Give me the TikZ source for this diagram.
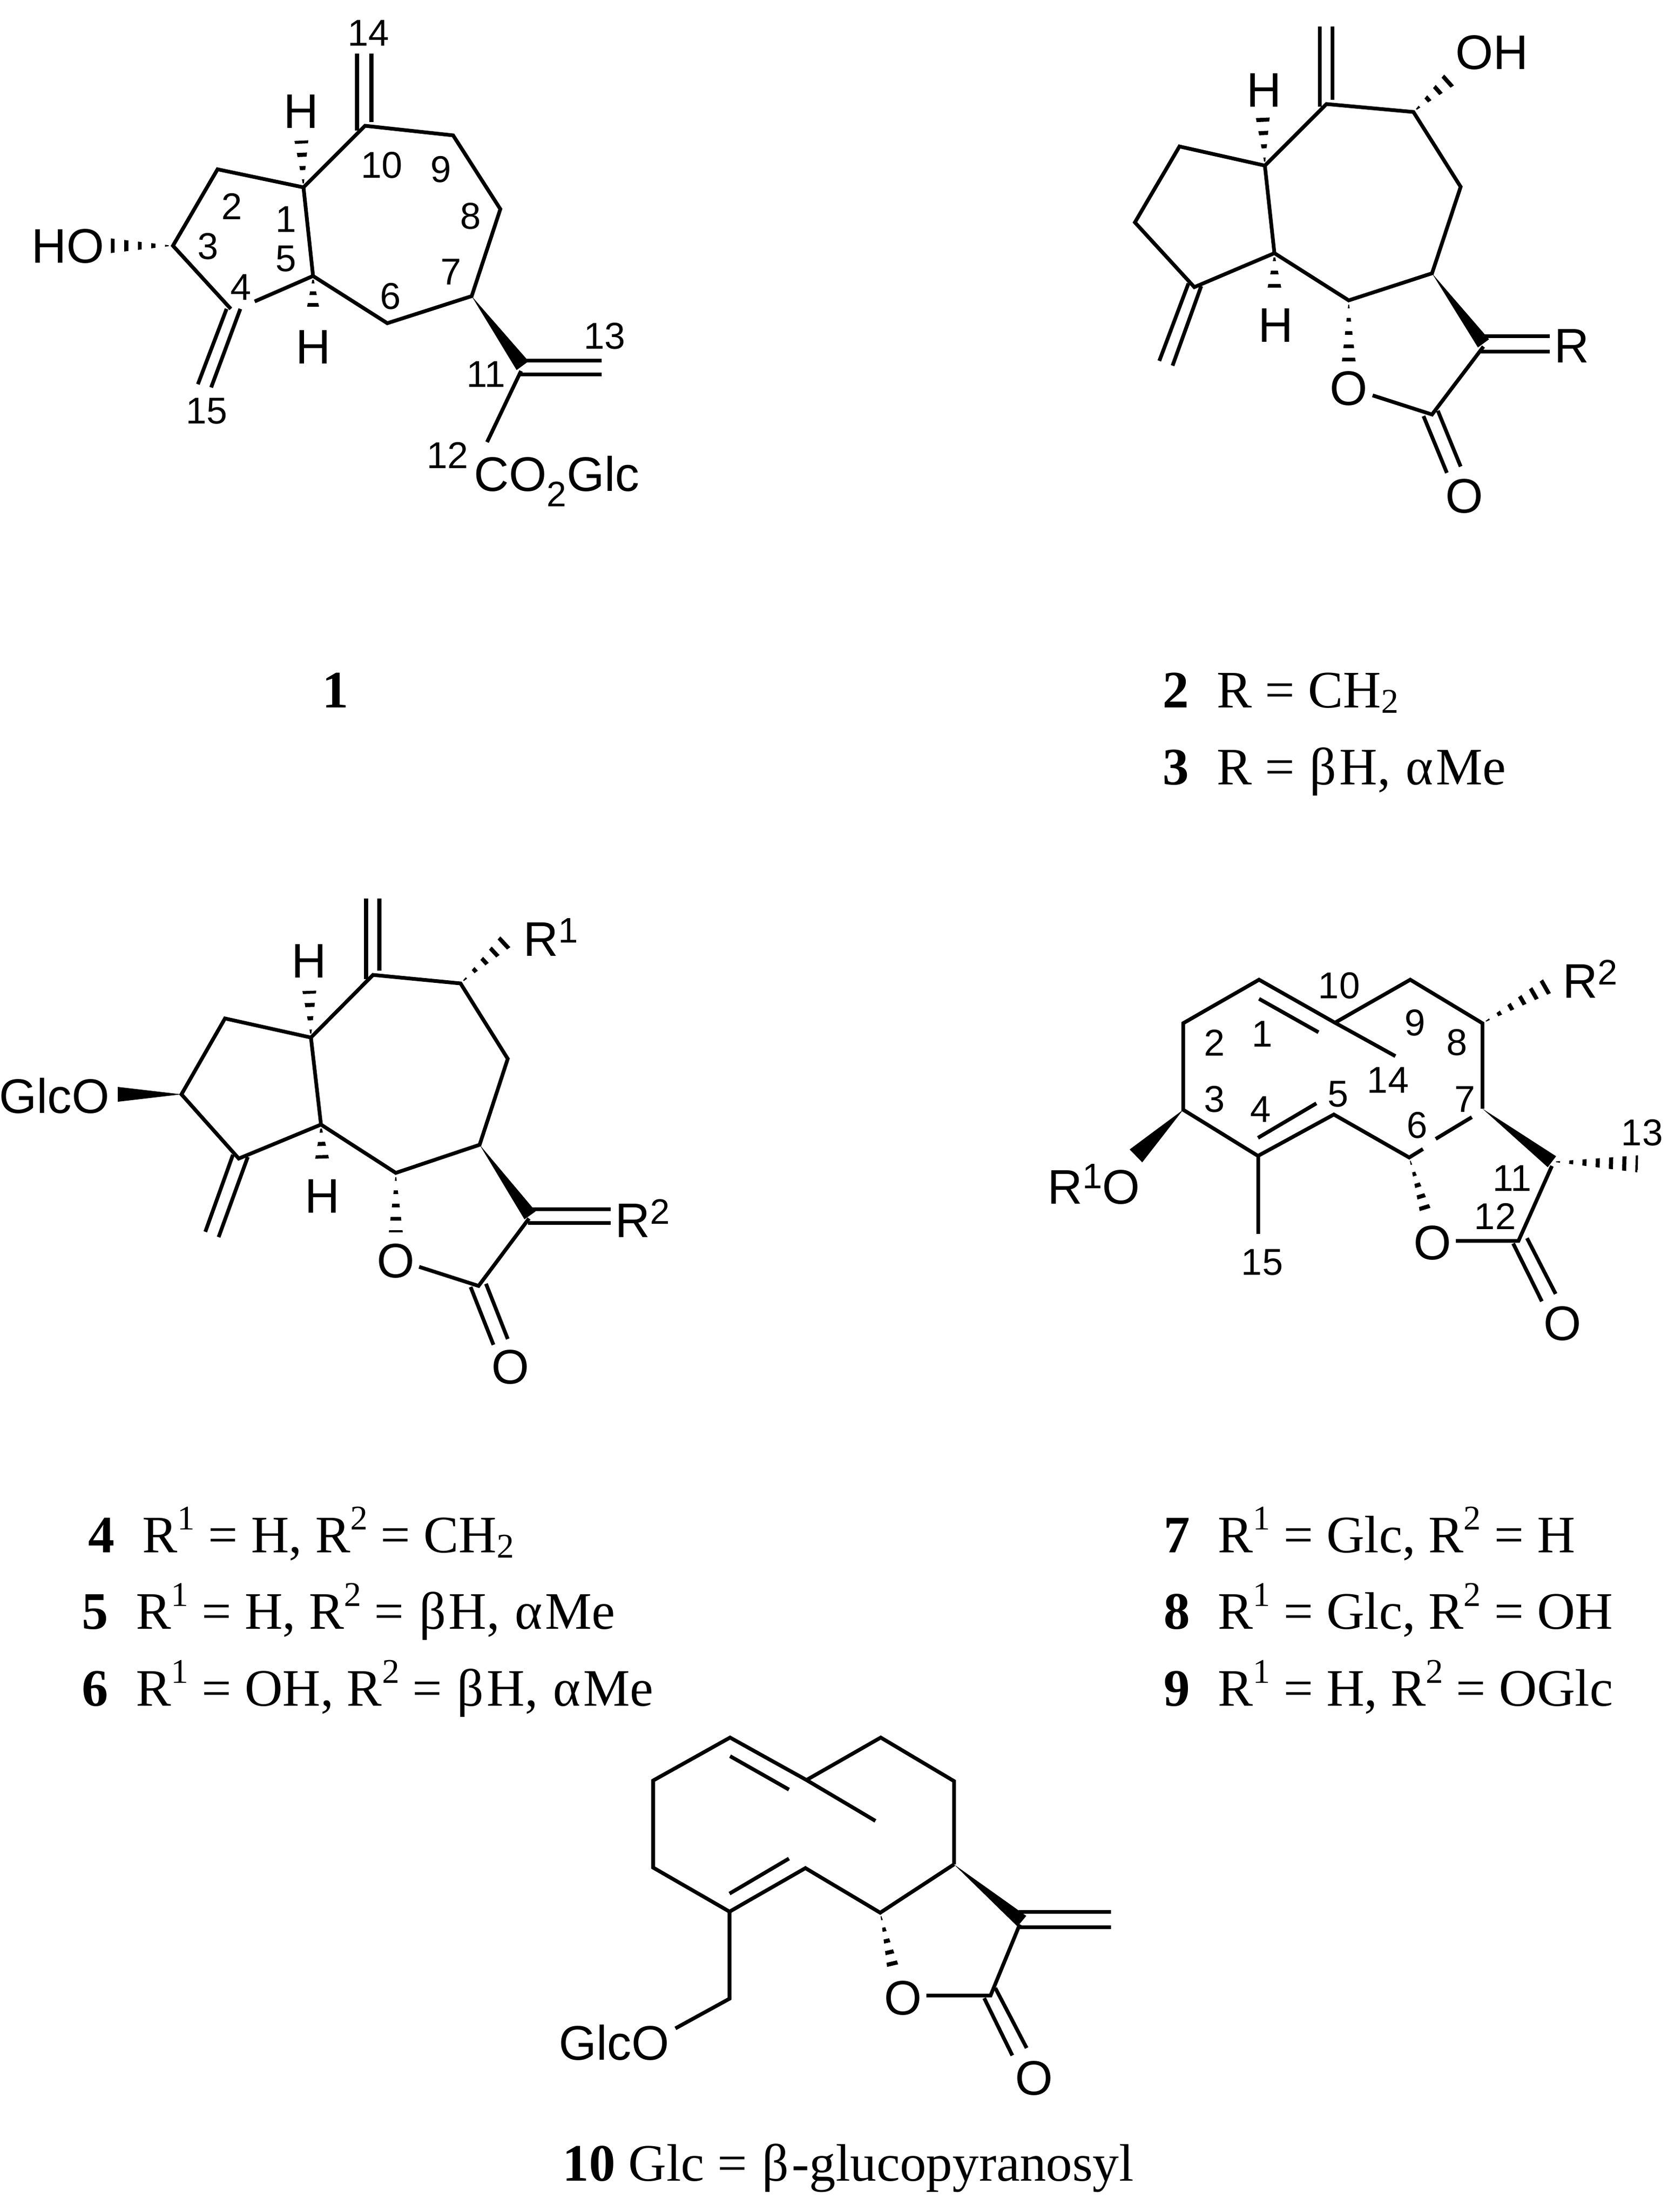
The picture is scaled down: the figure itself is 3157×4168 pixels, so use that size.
\documentclass[tikz,border=0pt]{standalone}
\usepackage{fontspec}
\setmainfont{Liberation Serif}
\setsansfont{Liberation Sans}
\usetikzlibrary{calc}
\tikzset{
  bond/.style={line width=2pt,line cap=butt,line join=miter,black},
  lab/.style={font=\sffamily\fontsize{26pt}{30pt}\selectfont,inner sep=0pt,black},
  num/.style={font=\sffamily\fontsize{20pt}{24pt}\selectfont,inner sep=0pt,black},
  captxt/.style={font=\rmfamily\fontsize{28.2pt}{33pt}\selectfont,inner sep=0pt,anchor=base west,black},
}
% hashed wedge: from, to, half-width (px), spacing (px)
\newcommand{\hashb}[4]{%
  \begin{scope}
    \clip (#1) -- ($(#2)!#3*0.01cm!90:(#1)$) -- ($(#2)!#3*0.01cm!-90:(#1)$) -- cycle;
    \pgfmathsetmacro\hoff{#4*0.2845-2.2}
    \pgfmathsetmacro\hph{#4*0.2845-(#4*0.3)*0.2845}
    \draw[line width=#3*0.6pt,dash pattern={on 2.2pt off \hoff pt},dash phase=\hph pt] (#1) -- (#2);
  \end{scope}}
% solid wedge: from, to, half-width (px)
\newcommand{\wedgeb}[3]{%
  \fill[black] (#1) -- ($(#2)!#3*0.01cm!90:(#1)$) -- ($(#2)!#3*0.01cm!-90:(#1)$) -- cycle;}
\newcommand{\csup}[1]{\raisebox{12.2pt}{\fontsize{18.6pt}{20pt}\selectfont #1}}
\newcommand{\csub}[1]{\raisebox{-3.1pt}{\fontsize{18.6pt}{20pt}\selectfont #1}}
\newcommand{\lsup}[1]{\raisebox{7pt}{\fontsize{19pt}{20pt}\selectfont #1}}
\newcommand{\cnum}[1]{\makebox[29pt][l]{\textbf{#1}}}
\newcommand{\gb}{\hspace{1pt}β\hspace{1.5pt}}
\newcommand{\ga}{\hspace{1pt}α\hspace{1.5pt}}
\begin{document}
\begin{tikzpicture}[x=0.01cm,y=-0.01cm]
\useasboundingbox (0,0) rectangle (3157,4168);
\fill[white] (0,0) rectangle (3157,4168);

%% ---------- compound 1 ----------
\coordinate (a1) at (572,353); \coordinate (a2) at (410,319); \coordinate (a3) at (326,463);
\coordinate (a4) at (435,582); \coordinate (a4g) at (480,568); \coordinate (a5) at (590,520);
\coordinate (a6) at (730,609); \coordinate (a7) at (889,558); \coordinate (a8) at (943,394);
\coordinate (a9) at (854,255); \coordinate (a10) at (688,237); \coordinate (a11) at (982,699);
\coordinate (a14l) at (673,101); \coordinate (a14lb) at (673,246);
\coordinate (a14r) at (700,101); \coordinate (a14rb) at (700,230);
\coordinate (a15lt) at (427,582); \coordinate (a15l) at (373,724);
\coordinate (a15rt) at (453,582); \coordinate (a15r) at (398,730);
\coordinate (a13ut) at (986,679); \coordinate (a13u) at (1134,679);
\coordinate (a13lt) at (980,705); \coordinate (a13l) at (1134,705);
\coordinate (a12) at (918,833); \coordinate (a11w) at (985,689);
\coordinate (aH1) at (568,265); \coordinate (aH5) at (590,587); \coordinate (aOH) at (207,463);
\draw[bond] (a4g) -- (a5) -- (a1) -- (a2) -- (a3) -- (a4);
\draw[bond] (a1) -- (a10) -- (a9) -- (a8) -- (a7) -- (a6) -- (a5);
\draw[bond] (a14lb) -- (a14l) (a14rb) -- (a14r);
\draw[bond] (a15lt) -- (a15l) (a15rt) -- (a15r);
\draw[bond] (a13ut) -- (a13u) (a13lt) -- (a13l);
\draw[bond] (a11) -- (a12);
\wedgeb{a7}{a11w}{14}
\hashb{a1}{aH1}{13}{25}
\hashb{a5}{aH5}{13}{22}
\hashb{a3}{aOH}{14}{25.5}
\node[lab] (aHu) at (568,210) {H};
\node[lab] (aHd) at (591,654) {H};
\node[lab] (aHO) at (128,464) {HO};
\node[lab,anchor=base west] (aCO) at (893,925) {CO\raisebox{-8.5pt}{\fontsize{19pt}{20pt}\selectfont 2}Glc};
\node[num] (an14) at (695,62) {14};
\node[num] (an10) at (720,311) {10};
\node[num] (an9) at (831,319) {9};
\node[num] (an2) at (437,389) {2};
\node[num] (an1) at (539,413) {1};
\node[num] (an8) at (887,407) {8};
\node[num] (an3) at (392,464) {3};
\node[num] (an5) at (539,488) {5};
\node[num] (an7) at (850,512) {7};
\node[num] (an4) at (454,541) {4};
\node[num] (an6) at (736,558) {6};
\node[num] (an13) at (1140,633) {13};
\node[num] (an11) at (916,705) {11};
\node[num] (an15) at (390,775) {15};
\node[num] (an12) at (844,858) {12};
\node[captxt,anchor=base] (c1) at (632,1333) {\textbf{1}};

%% ---------- compound 2/3 ----------
\coordinate (b1) at (2384,312); \coordinate (b2) at (2223,276); \coordinate (b3) at (2139,419);
\coordinate (b4) at (2251,541); \coordinate (b5) at (2402,477); \coordinate (b6) at (2542,566);
\coordinate (b7) at (2699,515); \coordinate (b8) at (2753,352); \coordinate (b9) at (2664,211);
\coordinate (b10) at (2500,196); \coordinate (b11) at (2796,653); \coordinate (b12) at (2699,781);
\coordinate (bOr) at (2587,745); \coordinate (b11w) at (2796,647);
\coordinate (b14lb) at (2487,201); \coordinate (b14l) at (2487,50);
\coordinate (b14rb) at (2511,188); \coordinate (b14r) at (2511,50);
\coordinate (b15lt) at (2240,534); \coordinate (b15l) at (2185,680);
\coordinate (b15rt) at (2264,539); \coordinate (b15r) at (2210,689);
\coordinate (bRut) at (2790,633); \coordinate (bRu) at (2921,633);
\coordinate (bRlt) at (2790,662); \coordinate (bRl) at (2921,662);
\coordinate (bCOlt) at (2683,784); \coordinate (bCOl) at (2727,891);
\coordinate (bCOrt) at (2710,774); \coordinate (bCOr) at (2753,879);
\coordinate (bhH1) at (2380,222); \coordinate (bhH5) at (2402,543);
\coordinate (bhOH) at (2732,150); \coordinate (bhO) at (2542,682);
\draw[bond] (b5) -- (b1) -- (b2) -- (b3) -- (b4) -- cycle;
\draw[bond] (b1) -- (b10) -- (b9) -- (b8) -- (b7) -- (b6) -- (b5);
\draw[bond] (bOr) -- (b12) -- (b11);
\draw[bond] (b14lb) -- (b14l) (b14rb) -- (b14r);
\draw[bond] (b15lt) -- (b15l) (b15rt) -- (b15r);
\draw[bond] (bRut) -- (bRu) (bRlt) -- (bRl);
\draw[bond] (bCOlt) -- (bCOl) (bCOrt) -- (bCOr);
\wedgeb{b7}{b11w}{13}
\hashb{b1}{bhH1}{13}{25}
\hashb{b5}{bhH5}{13}{25}
\hashb{b9}{bhOH}{14}{25}
\hashb{b6}{bhO}{13}{25}
\node[lab] (bHu) at (2382,170) {H};
\node[lab] (bHd) at (2404,613) {H};
\node[lab] (bOH) at (2812,99) {OH};
\node[lab] (bO) at (2542,732) {O};
\node[lab] (bOd) at (2760,935) {O};
\node[lab] (bR) at (2962,652) {R};
\node[captxt] (c2) at (2191,1333) {\cnum{2}R = CH\csub{2}};
\node[captxt] (c3) at (2191,1478) {\cnum{3}R = \gb{}H, \ga{}Me};

%% ---------- compound 4/5/6 ----------
\coordinate (d1) at (586,1955); \coordinate (d2) at (424,1919); \coordinate (d3) at (342,2062);
\coordinate (d4) at (450,2183); \coordinate (d5) at (605,2119); \coordinate (d6) at (746,2210);
\coordinate (d7) at (904,2157); \coordinate (d8) at (957,1995); \coordinate (d9) at (868,1853);
\coordinate (d10) at (703,1837); \coordinate (d11) at (997,2296); \coordinate (d12) at (902,2423);
\coordinate (dOr) at (790,2387); \coordinate (d11w) at (999,2290);
\coordinate (d14lb) at (690,1845); \coordinate (d14l) at (690,1693);
\coordinate (d14rb) at (715,1829); \coordinate (d14r) at (715,1693);
\coordinate (d15lt) at (439,2176); \coordinate (d15l) at (387,2321);
\coordinate (d15rt) at (467,2180); \coordinate (d15r) at (412,2331);
\coordinate (dRut) at (995,2278); \coordinate (dRu) at (1151,2278);
\coordinate (dRlt) at (995,2304); \coordinate (dRl) at (1151,2304);
\coordinate (dCOlt) at (887,2425); \coordinate (dCOl) at (930,2534);
\coordinate (dCOrt) at (916,2419); \coordinate (dCOr) at (957,2523);
\coordinate (dhH1) at (583,1867); \coordinate (dhH5) at (607,2183);
\coordinate (dhR) at (953,1774); \coordinate (dhO) at (746,2322); \coordinate (dwG) at (222,2062);
\draw[bond] (d5) -- (d1) -- (d2) -- (d3) -- (d4) -- cycle;
\draw[bond] (d1) -- (d10) -- (d9) -- (d8) -- (d7) -- (d6) -- (d5);
\draw[bond] (dOr) -- (d12) -- (d11);
\draw[bond] (d14lb) -- (d14l) (d14rb) -- (d14r);
\draw[bond] (d15lt) -- (d15l) (d15rt) -- (d15r);
\draw[bond] (dRut) -- (dRu) (dRlt) -- (dRl);
\draw[bond] (dCOlt) -- (dCOl) (dCOrt) -- (dCOr);
\wedgeb{d7}{d11w}{13}
\wedgeb{d3}{dwG}{14}
\hashb{d1}{dhH1}{13}{25}
\hashb{d5}{dhH5}{13}{25}
\hashb{d9}{dhR}{14}{25}
\hashb{d6}{dhO}{13}{25}
\node[lab] (dHu) at (583,1811) {H};
\node[lab] (dHd) at (608,2254) {H};
\node[lab,anchor=base west] (dR1) at (986,1801) {R\lsup{1}};
\node[lab,anchor=base west] (dR2) at (1159,2331) {R\lsup{2}};
\node[lab,anchor=east] (dG) at (207,2065) {GlcO};
\node[lab] (dO) at (746,2376) {O};
\node[lab] (dOd) at (962,2576) {O};
\node[captxt] (c4) at (166,2925) {\cnum{4}R\csup{1} = H, R\csup{2} = CH\csub{2}};
\node[captxt] (c5) at (154,3069) {\cnum{5}R\csup{1} = H, R\csup{2} = \gb{}H, \ga{}Me};
\node[captxt] (c6) at (154,3214) {\cnum{6}R\csup{1} = OH, R\csup{2} = \gb{}H, \ga{}Me};

%% ---------- compound 7/8/9 ----------
\coordinate (e2) at (2230,1928); \coordinate (e1) at (2373,1846); \coordinate (e10) at (2516,1927);
\coordinate (e9) at (2658,1846); \coordinate (e8) at (2794,1928); \coordinate (e7) at (2794,2089);
\coordinate (e6) at (2656,2181); \coordinate (e5) at (2514,2100); \coordinate (e4) at (2371,2178);
\coordinate (e3) at (2230,2091); \coordinate (e14) at (2630,1990); \coordinate (e15) at (2371,2325);
\coordinate (e1i) at (2373,1882); \coordinate (e10i) at (2485,1945);
\coordinate (e4i) at (2371,2144); \coordinate (e5i) at (2481,2079);
\coordinate (e6g) at (2682,2165); \coordinate (e7g) at (2706,2146); \coordinate (e7h) at (2774,2105);
\coordinate (e11) at (2925,2197); \coordinate (e11w) at (2925,2189); \coordinate (e12) at (2862,2338);
\coordinate (eOr) at (2744,2338); \coordinate (ehO) at (2690,2292); \coordinate (eh13) at (3087,2193);
\coordinate (ehR) at (2916,1858); \coordinate (ewR) at (2141,2178);
\coordinate (eCOlt) at (2852,2343); \coordinate (eCOl) at (2906,2452);
\coordinate (eCOrt) at (2878,2333); \coordinate (eCOr) at (2932,2438);
\draw[bond] (e7) -- (e8) -- (e9) -- (e10) (e14) -- (e10) -- (e1) -- (e2) -- (e3) -- (e4) -- (e5) -- (e6) -- (e6g);
\draw[bond] (e7g) -- (e7h);
\draw[bond] (e1i) -- (e10i) (e4i) -- (e5i);
\draw[bond] (e4) -- (e15);
\draw[bond] (e11) -- (e12) -- (eOr);
\draw[bond] (eCOlt) -- (eCOl) (eCOrt) -- (eCOr);
\wedgeb{e7}{e11w}{13}
\wedgeb{e3}{ewR}{17}
\hashb{e8}{ehR}{15}{25}
\hashb{e6}{ehO}{12}{22}
\hashb{e11w}{eh13}{16}{25}
\node[lab,anchor=base west] (eR2) at (2945,1880) {R\lsup{2}};
\node[lab,anchor=base west] (eR1) at (1974,2268) {R\raisebox{1pt}{\lsup{1}}O};
\node[lab] (eO) at (2700,2342) {O};
\node[lab] (eOd) at (2945,2494) {O};
\node[num] (en10) at (2524,1857) {10};
\node[num] (en9) at (2667,1927) {9};
\node[num] (en8) at (2746,1964) {8};
\node[num] (en2) at (2289,1965) {2};
\node[num] (en1) at (2379,1948) {1};
\node[num] (en14) at (2616,2035) {14};
\node[num] (en5) at (2522,2062) {5};
\node[num] (en3) at (2289,2071) {3};
\node[num] (en7) at (2761,2071) {7};
\node[num] (en4) at (2376,2090) {4};
\node[num] (en6) at (2671,2120) {6};
\node[num] (en13) at (3095,2134) {13};
\node[num] (en11) at (2850,2220) {11};
\node[num] (en12) at (2818,2292) {12};
\node[num] (en15) at (2379,2379) {15};
\node[captxt] (c7) at (2193,2925) {\cnum{7}R\csup{1} = Glc, R\csup{2} = H};
\node[captxt] (c8) at (2193,3069) {\cnum{8}R\csup{1} = Glc, R\csup{2} = OH};
\node[captxt] (c9) at (2193,3214) {\cnum{9}R\csup{1} = H, R\csup{2} = OGlc};

%% ---------- compound 10 ----------
\coordinate (f1) at (1376,3274); \coordinate (f2) at (1231,3355); \coordinate (f3) at (1231,3519);
\coordinate (f4) at (1375,3602); \coordinate (f5) at (1518,3520); \coordinate (f6) at (1659,3604);
\coordinate (f7) at (1798,3513); \coordinate (f8) at (1798,3356); \coordinate (f9) at (1660,3274);
\coordinate (f10) at (1520,3354); \coordinate (f14) at (1650,3431);
\coordinate (f1i) at (1376,3309); \coordinate (f10i) at (1487,3372);
\coordinate (f4i) at (1375,3568); \coordinate (f5i) at (1487,3502);
\coordinate (fCH) at (1375,3766); \coordinate (fOl) at (1273,3822);
\coordinate (f11) at (1922,3626); \coordinate (f11w) at (1926,3620); \coordinate (f12) at (1867,3760);
\coordinate (fOr) at (1746,3760); \coordinate (fhO) at (1685,3715);
\coordinate (fDut) at (1920,3602); \coordinate (fDu) at (2094,3602);
\coordinate (fDlt) at (1918,3631); \coordinate (fDl) at (2094,3631);
\coordinate (fCOlt) at (1855,3765); \coordinate (fCOl) at (1908,3873);
\coordinate (fCOrt) at (1876,3746); \coordinate (fCOr) at (1935,3859);
\draw[bond] (f7) -- (f8) -- (f9) -- (f10) (f14) -- (f10) -- (f1) -- (f2) -- (f3) -- (f4) -- (f5) -- (f6) -- (f7);
\draw[bond] (f1i) -- (f10i) (f4i) -- (f5i);
\draw[bond] (f4) -- (fCH) -- (fOl);
\draw[bond] (f11) -- (f12) -- (fOr);
\draw[bond] (fDut) -- (fDu) (fDlt) -- (fDl);
\draw[bond] (fCOlt) -- (fCOl) (fCOrt) -- (fCOr);
\wedgeb{f7}{f11w}{13}
\hashb{f6}{fhO}{12}{22}
\node[lab,anchor=east] (fG) at (1262,3849) {GlcO};
\node[lab] (fO) at (1702,3765) {O};
\node[lab] (fOd) at (1949,3916) {O};
\node[captxt] (c10) at (1060,4109) {\textbf{10} Glc = \gb{}-glucopyranosyl};
\end{tikzpicture}
\end{document}
